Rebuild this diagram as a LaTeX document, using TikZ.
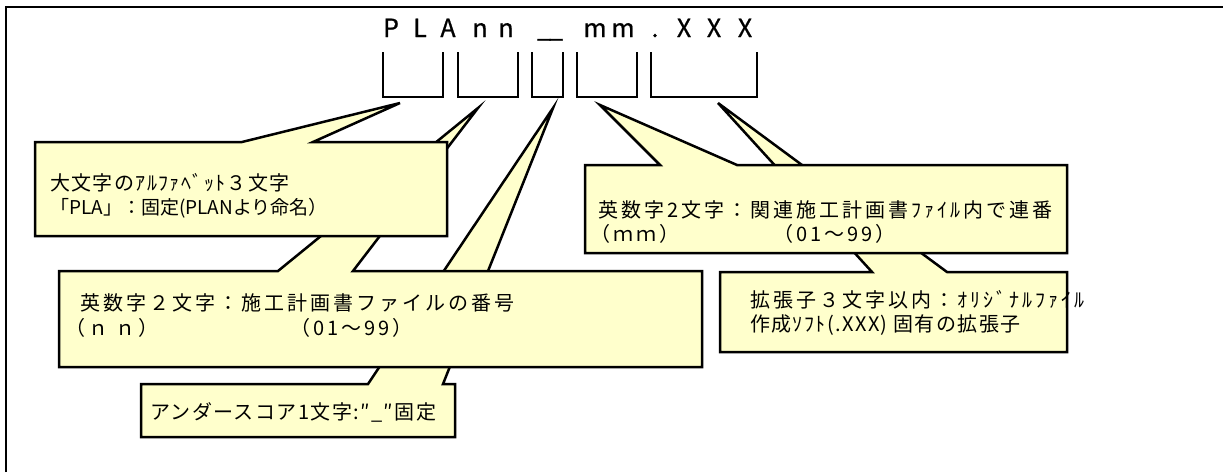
\documentclass[tikz,border=0pt]{standalone}
\usepackage{fontspec}
\setmainfont{Noto Sans CJK JP}
\newfontfamily\jpsp[LetterSpace=15]{Noto Sans CJK JP}
\newfontfamily\jpspm[LetterSpace=7]{Noto Sans CJK JP}
\newfontfamily\jpttl[FakeBold=0.8]{Noto Sans CJK JP}
\definecolor{calloutfill}{HTML}{FFFFCC}
\begin{document}
\begin{tikzpicture}[x=1pt,y=-1pt,
  callout/.style={draw=black, line width=2.5pt, fill=calloutfill, line join=miter},
  bracketline/.style={draw=black, line width=1.6pt},
  txt/.style={anchor=west, inner sep=0pt, font=\jpsp\fontsize{20}{24}\selectfont},
  txtm/.style={anchor=west, inner sep=0pt, font=\jpspm\fontsize{20}{24}\selectfont},
  txtn/.style={anchor=west, inner sep=0pt, font=\fontsize{19}{23}\selectfont},
  ttl/.style={anchor=base, inner sep=0pt, font=\jpttl\fontsize{25}{29}\selectfont}]
\useasboundingbox (0,0) rectangle (1223,472);
% frame
\draw[line width=2.4pt] (6,472) -- (6,7) -- (1223,7);
% title
\node[ttl] (tP) at (391,37) {P};
\node[ttl] (tL) at (420,37) {L};
\node[ttl] (tA) at (448,37) {A};
\node[ttl] (tn1) at (480,37) {n};
\node[ttl] (tn2) at (506,37) {n};
\node[ttl] (tu) at (550,37) {\_\kern-2pt\_};
\node[ttl] (tm1) at (595,37) {m};
\node[ttl] (tm2) at (623,37) {m};
\node[ttl] (tdot) at (655,37) {.};
\node[ttl] (tX1) at (684,37) {X};
\node[ttl] (tX2) at (714,37) {X};
\node[ttl] (tX3) at (745,37) {X};
% brackets
\draw[bracketline] (383,52) -- (383,97) -- (443,97) -- (443,52);
\draw[bracketline] (458,52) -- (458,97) -- (518,97) -- (518,52);
\draw[bracketline] (532,52) -- (532,97) -- (563,97) -- (563,52);
\draw[bracketline] (577,52) -- (577,97) -- (637,97) -- (637,52);
\draw[bracketline] (651,52) -- (651,97) -- (757,97) -- (757,52);
% callout 3 (underscore)
\draw[callout] (141,384) -- (368,384) -- (553,108) -- (443,384) -- (455,384) -- (455,437) -- (141,437) -- cycle;
% callout 2 (nn)
\draw[callout] (59,271) -- (278,271) -- (478,108) -- (353,271) -- (702,271) -- (702,367) -- (59,367) -- cycle;
% callout 1 (PLA)
\draw[callout] (35,142) -- (242,142) -- (400,103) -- (313,142) -- (447,142) -- (447,236) -- (35,236) -- cycle;
% callout 5 (XXX)
\draw[callout] (720,272) -- (872,272) -- (718,103) -- (947,272) -- (1067,272) -- (1067,352) -- (720,352) -- cycle;
% callout 4 (mm)
\draw[callout] (585,165) -- (660,165) -- (600,105) -- (737,165) -- (1067,165) -- (1067,253) -- (585,253) -- cycle;
% texts
\node[txtm] (c1a) at (50,183) {大文字のｱﾙﾌｧﾍﾞｯﾄ３文字};
\node[txtn] (c1b) at (50,208) {「PLA」：固定(PLANより命名）};
\node[txt] (c2a) at (80,303) {英数字２文字：施工計画書ファイルの番号};
\node[txt] (c2b) at (65,328) {（ｎ ｎ）};
\node[txt] (c2c) at (290,328) {（01～99）};
\node[txtm] (c3a) at (150,412) {アンダースコア1文字:″\_″固定};
\node[txt] (c4a) at (598,210) {英数字2文字：関連施工計画書ﾌｧｲﾙ内で連番};
\node[txt] (c4b) at (590,234) {（ｍｍ）};
\node[txt] (c4c) at (773,234) {（01～99）};
\node[txt] (c5a) at (750,300) {拡張子３文字以内：ｵﾘｼﾞﾅﾙﾌｧｲﾙ};
\node[txtm] (c5b) at (750,325) {作成ｿﾌﾄ(.XXX) 固有の拡張子};
\end{tikzpicture}
\end{document}
